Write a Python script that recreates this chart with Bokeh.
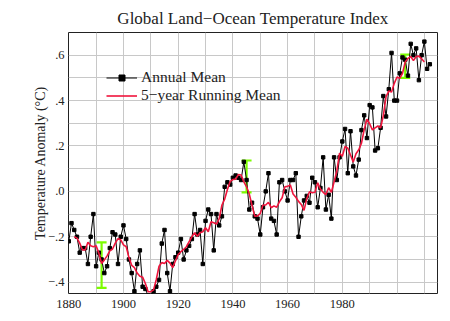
from bokeh.plotting import figure
from bokeh.models import FixedTicker, Range1d, Whisker, TeeHead, ColumnDataSource
from bokeh.embed import file_html
from bokeh.resources import INLINE

# ---- data ----
years = list(range(1880, 2013))
annual = [
    -0.22, -0.14, -0.17, -0.20, -0.27, -0.25, -0.25, -0.32, -0.20, -0.10,  # 1880s
    -0.33, -0.27, -0.30, -0.36, -0.33, -0.25, -0.18, -0.19, -0.32, -0.20,  # 1890s
    -0.15, -0.21, -0.30, -0.36, -0.44, -0.32, -0.26, -0.42, -0.43, -0.46,  # 1900s
    -0.46, -0.44, -0.42, -0.39, -0.23, -0.17, -0.36, -0.44, -0.32, -0.29,  # 1910s
    -0.27, -0.21, -0.30, -0.26, -0.24, -0.21, -0.10, -0.19, -0.17, -0.32,  # 1920s
    -0.13, -0.08, -0.10, -0.26, -0.10, -0.15, -0.11, 0.02, 0.04, 0.03,     # 1930s
    0.06, 0.07, 0.06, 0.05, 0.13, 0.05, -0.08, -0.05, -0.11, -0.12,        # 1940s
    -0.19, -0.07, 0.00, 0.08, -0.12, -0.13, -0.19, 0.04, 0.05, 0.00,       # 1950s
    -0.04, 0.05, 0.05, 0.08, -0.20, -0.11, -0.04, -0.02, -0.05, 0.06,      # 1960s
    0.04, -0.07, 0.015, 0.15, -0.08, -0.015, -0.12, 0.15, 0.05, 0.15,      # 1970s
    0.22, 0.275, 0.08, 0.265, 0.11, 0.07, 0.14, 0.27, 0.335, 0.235,        # 1980s
    0.38, 0.37, 0.18, 0.19, 0.28, 0.42, 0.33, 0.45, 0.61, 0.40,            # 1990s
    0.40, 0.52, 0.59, 0.58, 0.51, 0.65, 0.60, 0.63, 0.49, 0.60,            # 2000s
    0.66, 0.54, 0.56,                                                      # 2010-2012
]
rm_years = list(range(1882, 2011))
running = [
    -0.200, -0.206, -0.228, -0.258, -0.258, -0.224, -0.240, -0.244,        # 1882-1889
    -0.240, -0.272, -0.318, -0.302, -0.284, -0.262, -0.254, -0.228, -0.208, -0.214,
    -0.236, -0.244, -0.292, -0.326, -0.336, -0.360, -0.374, -0.378, -0.406, -0.442,
    -0.442, -0.434, -0.388, -0.330, -0.314, -0.318, -0.304, -0.316, -0.336, -0.306,
    -0.278, -0.266, -0.256, -0.244, -0.222, -0.200, -0.182, -0.198, -0.182, -0.178,
    -0.160, -0.178, -0.134, -0.138, -0.144, -0.120, -0.060, -0.034, 0.008, 0.044,
    0.052, 0.054, 0.074, 0.072, 0.042, 0.020, -0.012, -0.062, -0.110, -0.108,
    -0.098, -0.060, -0.060, -0.048, -0.072, -0.064, -0.070, -0.046, -0.028, 0.020,
    0.022, 0.028, -0.012, -0.026, -0.044, -0.058, -0.084, -0.032, -0.002, -0.006,
    -0.004, 0.038, 0.010, -0.004, -0.014, 0.016, -0.004, 0.042, 0.090, 0.168,
    0.155, 0.198, 0.190, 0.160, 0.129, 0.166, 0.183, 0.212, 0.272, 0.318,
    0.298, 0.271, 0.280, 0.288, 0.280, 0.334, 0.418, 0.442, 0.438, 0.476,
    0.504, 0.498, 0.520, 0.570, 0.586, 0.594, 0.576, 0.594, 0.596, 0.584,
    0.570,
]
err_years = [1892, 1945, 2003]
err_low = [-0.425, -0.004, 0.500]
err_high = [-0.225, 0.136, 0.603]

y_ticks = [-0.4, -0.2, 0.0, 0.2, 0.4, 0.6]
y_tick_labels = ["\u2212.4", "\u2212.2", ".0", ".2", ".4", ".6"]
x_ticks = [1880, 1900, 1920, 1940, 1960, 1980]
x_grid = [1890, 1900, 1910, 1920, 1930, 1940, 1950, 1960, 1970, 1980, 1990, 2000, 2010]
y_grid = [-0.4, -0.3, -0.2, -0.1, 0.0, 0.1, 0.2, 0.3, 0.4, 0.5, 0.6]

SERIF = "Liberation Serif"
RED = "#f0143c"
GREEN = "#7cfc00"

p = figure(width=450, height=321, output_backend="svg", toolbar_location=None,
           x_range=Range1d(1879.9, 2014.8), y_range=Range1d(-0.45, 0.70),
           min_border_left=68, min_border_right=13, min_border_top=32,
           min_border_bottom=28)
p.background_fill_color = "white"
p.border_fill_color = "white"
p.outline_line_color = "#222222"
p.outline_line_width = 1

p.title.text = "Global Land\u2212Ocean Temperature Index"
p.title.align = "center"
p.title.text_font = SERIF
p.title.text_font_size = "17px"
p.title.text_font_style = "normal"
p.title.text_color = "#222222"

# grids
p.xgrid.ticker = FixedTicker(ticks=x_grid)
p.ygrid.ticker = FixedTicker(ticks=y_grid)
for g in (p.xgrid, p.ygrid):
    g.grid_line_color = "#c8c8c8"
    g.grid_line_width = 1

# axes
p.xaxis.ticker = FixedTicker(ticks=x_ticks)
p.yaxis.ticker = FixedTicker(ticks=y_ticks)
p.yaxis.major_label_overrides = {t: l for t, l in zip(y_ticks, y_tick_labels)}
for ax in (p.xaxis, p.yaxis):
    ax.axis_line_color = None
    ax.major_tick_line_color = None
    ax.minor_tick_line_color = None
    ax.major_tick_out = 0
    ax.major_tick_in = 0
    ax.major_label_text_font = SERIF
    ax.major_label_text_font_size = "12.5px"
    ax.major_label_text_color = "#222222"
p.xaxis.major_label_standoff = 6
p.yaxis.major_label_standoff = 4
p.yaxis.axis_label = "Temperature Anomaly (\u00b0C)"
p.yaxis.axis_label_text_font = SERIF
p.yaxis.axis_label_text_font_size = "14px"
p.yaxis.axis_label_text_font_style = "normal"
p.yaxis.axis_label_text_color = "#222222"
p.yaxis.axis_label_standoff = -3

# series
p.line(years, annual, line_color="black", line_width=1, legend_label="Annual Mean")
p.scatter(years, annual, marker="square", size=3.4, fill_color="black",
          line_color="black", line_width=1, legend_label="Annual Mean")
p.line(rm_years, running, line_color=RED, line_width=1.6,
       legend_label="5\u2212year Running Mean")

src = ColumnDataSource(data=dict(x=err_years, lo=err_low, hi=err_high))
p.add_layout(Whisker(base="x", lower="lo", upper="hi", source=src,
                     line_color=GREEN, line_width=2.2,
                     upper_head=TeeHead(size=10, line_color=GREEN, line_width=2.2),
                     lower_head=TeeHead(size=10, line_color=GREEN, line_width=2.2)))

lg = p.legend[0]
lg.location = (38, 189)
lg.background_fill_alpha = 0
lg.border_line_color = None
lg.padding = 0
lg.margin = 0
lg.spacing = 0
lg.glyph_width = 31
lg.glyph_height = 15
lg.label_height = 15
lg.label_standoff = 4
lg.label_text_font = SERIF
lg.label_text_font_size = "15.5px"
lg.label_text_color = "#222222"

open("out.html", "w").write(file_html(p, INLINE))
